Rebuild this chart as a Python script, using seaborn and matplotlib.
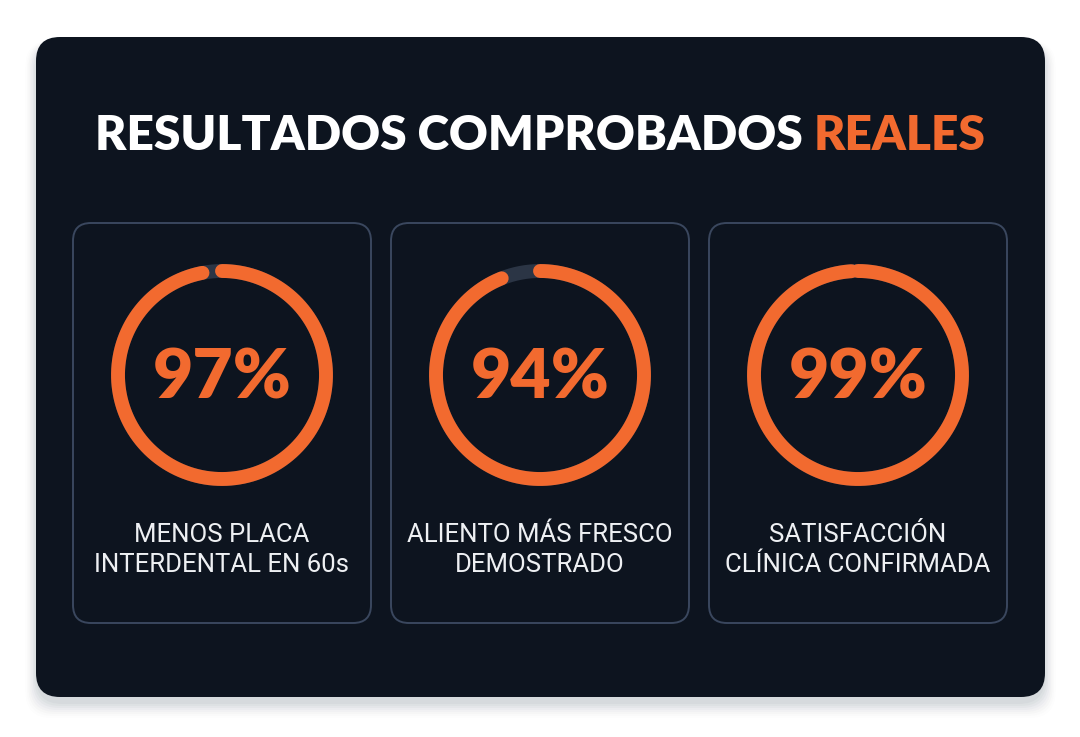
import numpy as np
import pandas as pd
import matplotlib.pyplot as plt
import seaborn as sns
from matplotlib.patches import FancyBboxPatch

# data
metrics = ['97%', '94%', '99%']
values = [97, 94, 99]
labels = ['MENOS PLACA\nINTERDENTAL EN 60s',
          'ALIENTO MÁS FRESCO\nDEMOSTRADO',
          'SATISFACCIÓN\nCLÍNICA CONFIRMADA']
title_white = 'RESULTADOS COMPROBADOS '
title_orange = 'REALES'

orange = '#f26a2f'
navy = '#0d141f'
track = '#2b3545'
edge = '#3a475e'

sns.set_theme(style='white')
plt.rcParams['font.family'] = ['Roboto', 'DejaVu Sans']

fig = plt.figure(figsize=(10.8, 7.37), dpi=100)
fig.patch.set_facecolor('white')
ax = fig.add_axes([0, 0, 1, 1])
ax.set_xlim(0, 1080)
ax.set_ylim(737, 0)
ax.axis('off')

# soft shadow under the panel
for i, a in enumerate(np.linspace(0.05, 0.012, 8)):
    s = FancyBboxPatch((36 - i * 1.5, 44 - i * 0.5), 1009 + i * 3, 660 + i * 2.5,
                       boxstyle='round,pad=0,rounding_size=26', fc='#5a6878',
                       ec='none', alpha=a, zorder=0)
    ax.add_patch(s)

panel = FancyBboxPatch((36, 37), 1009, 660, boxstyle='round,pad=0,rounding_size=24',
                       fc=navy, ec='none', zorder=1)
ax.add_patch(panel)

# title, white part then orange part, centred as one line
tfont = dict(fontsize=34.5, fontweight='heavy', family=['Lato', 'DejaVu Sans'])
t1 = ax.text(540, 136, title_white + title_orange, color='white',
             ha='center', va='center', zorder=5, **tfont)
fig.canvas.draw()
bb = t1.get_window_extent()
t1.set_text(title_white)
t1.set_ha('left')
x0 = ax.transData.inverted().transform((bb.x0, 0))[0]
t1.set_x(x0)
fig.canvas.draw()
bb2 = t1.get_window_extent()
x1 = ax.transData.inverted().transform((bb2.x1, 0))[0]
ax.text(x1, 136, title_orange, color=orange, ha='left', va='center', zorder=5, **tfont)

# cards
card_x = [73, 391, 709]
card_w = 298
centers = [cx + card_w / 2 for cx in card_x]
cy = 375
r = 104

rows = []
for m, v, c in zip(metrics, values, centers):
    th = np.linspace(0, 2 * np.pi * v / 100, 300)
    for t in th:
        rows.append({'metric': m, 'x': c + r * np.sin(t), 'y': cy - r * np.cos(t)})
arcs = pd.DataFrame(rows)

track_rows = []
for m, c in zip(metrics, centers):
    for t in np.linspace(0, 2 * np.pi, 400):
        track_rows.append({'metric': m, 'x': c + r * np.sin(t), 'y': cy - r * np.cos(t)})
tracks = pd.DataFrame(track_rows)

for cx, c, m, lab in zip(card_x, centers, metrics, labels):
    card = FancyBboxPatch((cx, 223), card_w, 400, boxstyle='round,pad=0,rounding_size=18',
                          fc=navy, ec=edge, lw=1.4, zorder=2)
    ax.add_patch(card)
    ax.text(c, cy + 4, m, color=orange, fontsize=50, fontweight='heavy',
            family=['Lato', 'DejaVu Sans'], ha='center', va='center', zorder=5)
    ax.text(c, 550, lab, color='#eef0f3', fontsize=18.5, ha='center', va='center',
            linespacing=1.3, zorder=5)

sns.lineplot(data=tracks, x='x', y='y', units='metric', estimator=None, sort=False,
             color=track, linewidth=10, ax=ax, zorder=3)
sns.lineplot(data=arcs, x='x', y='y', units='metric', estimator=None, sort=False,
             color=orange, linewidth=10, solid_capstyle='round', ax=ax, zorder=4)

ax.set_xlim(0, 1080)
ax.set_ylim(737, 0)
ax.axis('off')
fig.savefig('out.png', dpi=100, facecolor='white')
